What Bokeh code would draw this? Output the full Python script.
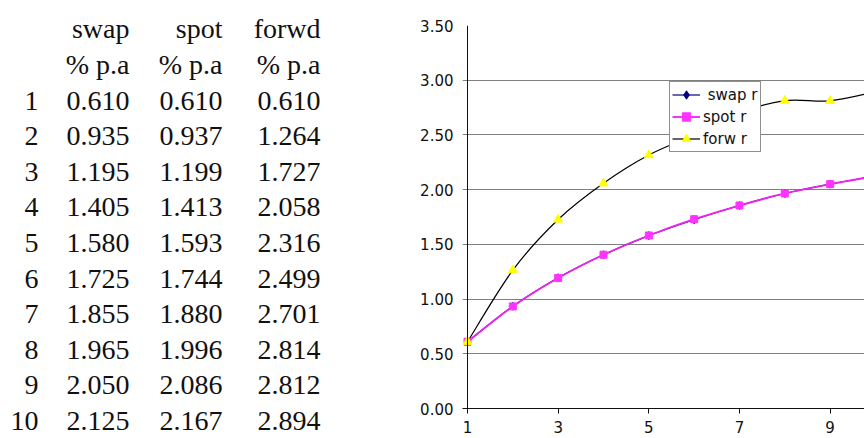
from bokeh.plotting import figure
from bokeh.layouts import row
from bokeh.models import Range1d, FixedTicker, NumeralTickFormatter, Span, Legend, LegendItem
from bokeh.core.properties import value
from bokeh.embed import file_html
from bokeh.resources import INLINE

# ---------------- data ----------------
years = [1, 2, 3, 4, 5, 6, 7, 8, 9, 10]
swap = [0.610, 0.935, 1.195, 1.405, 1.580, 1.725, 1.855, 1.965, 2.050, 2.125]
spot = [0.610, 0.937, 1.199, 1.413, 1.593, 1.744, 1.880, 1.996, 2.086, 2.167]
forw = [0.610, 1.264, 1.727, 2.058, 2.316, 2.499, 2.701, 2.814, 2.812, 2.894]
# values of the magenta "spot r" curve (it sits on the swap curve)
spot_plotted = [0.610, 0.933, 1.192, 1.405, 1.581, 1.730, 1.855, 1.965, 2.050, 2.125]
col_headers = ["swap", "spot", "forwd"]
unit_label = "% p.a"
y_ticks = [0.0, 0.5, 1.0, 1.5, 2.0, 2.5, 3.0, 3.5]
x_ticks = [1, 3, 5, 7, 9]
legend_labels = [" swap r", "spot r", "forw r"]

W, H = 864, 438

# ---------------- table (left) ----------------
TBL_W = 400
tbl = figure(width=TBL_W, height=H, x_range=Range1d(0, TBL_W), y_range=Range1d(H, 0),
             output_backend="svg", toolbar_location=None,
             x_axis_location=None, y_axis_location=None, min_border=0,
             outline_line_color=None, frame_align=False)
tbl.grid.visible = False

col_right = [38, 129, 222, 320]
header_y = [28, 64]
row_y0, row_dy = 100, 35.6

tx, ty, tt = [], [], []
for j, h in enumerate(col_headers):
    tx += [col_right[j + 1], col_right[j + 1]]
    ty += [header_y[0], header_y[1]]
    tt += [h, unit_label]
for i, yr in enumerate(years):
    yy = row_y0 + i * row_dy
    vals = [str(yr), f"{swap[i]:.3f}", f"{spot[i]:.3f}", f"{forw[i]:.3f}"]
    for j, v in enumerate(vals):
        tx.append(col_right[j]); ty.append(yy); tt.append(v)

tbl.text(x=tx, y=ty, text=tt, text_align="right", text_baseline="middle",
         text_font=value("Liberation Serif"), text_font_size="28px", text_color="#111111")

# ---------------- chart (right) ----------------
CH_W = W - TBL_W
px_per_x = 45.33
axis_px = 467 - TBL_W
left_border = 62
x_start = 1 - (axis_px - left_border) / px_per_x
x_end = 1 + (CH_W - axis_px) / px_per_x

p = figure(width=CH_W, height=H, x_range=Range1d(x_start, x_end), y_range=Range1d(0, 3.5),
           output_backend="svg", toolbar_location=None,
           min_border_left=left_border, min_border_right=0, min_border_top=25,
           min_border_bottom=30, outline_line_color=None, frame_align=False)

lbl_font = "DejaVu Sans"
p.yaxis.ticker = FixedTicker(ticks=y_ticks)
p.yaxis.formatter = NumeralTickFormatter(format="0.00")
p.yaxis.axis_line_color = None
p.yaxis.major_tick_line_color = None
p.yaxis.major_tick_out = 0
p.yaxis.major_tick_in = 0
p.yaxis.minor_tick_line_color = None
p.yaxis.major_label_standoff = 9

p.xaxis.ticker = FixedTicker(ticks=x_ticks)
p.xaxis.axis_line_color = "#111111"
p.xaxis.major_tick_line_color = "#111111"
p.xaxis.major_tick_out = 5
p.xaxis.major_tick_in = 0
p.xaxis.minor_tick_line_color = None
p.xaxis.major_label_standoff = 7

for ax in (p.xaxis, p.yaxis):
    ax.major_label_text_font = lbl_font
    ax.major_label_text_font_size = "15px"
    ax.major_label_text_color = "#111111"

p.xgrid.visible = False
p.ygrid.ticker = FixedTicker(ticks=y_ticks)
p.ygrid.grid_line_color = "#808080"
p.ygrid.grid_line_width = 1

p.add_layout(Span(location=1, dimension="height", line_color="#111111", line_width=1))


def smooth(xs, ys):
    n = len(xs)
    d = dict(x0=[], y0=[], x1=[], y1=[], cx0=[], cy0=[], cx1=[], cy1=[])
    for i in range(n - 1):
        im, ip = max(i - 1, 0), min(i + 2, n - 1)
        d["x0"].append(xs[i]); d["y0"].append(ys[i])
        d["x1"].append(xs[i + 1]); d["y1"].append(ys[i + 1])
        d["cx0"].append(xs[i] + (xs[i + 1] - xs[im]) / 6)
        d["cy0"].append(ys[i] + (ys[i + 1] - ys[im]) / 6)
        d["cx1"].append(xs[i + 1] - (xs[ip] - xs[i]) / 6)
        d["cy1"].append(ys[i + 1] - (ys[ip] - ys[i]) / 6)
    return d


b_swap = p.bezier(**smooth(years, swap), line_color="#000080", line_width=1.2)
b_spot = p.bezier(**smooth(years, spot_plotted), line_color="#F020F0", line_width=1.8)
b_forw = p.bezier(**smooth(years, forw), line_color="#000000", line_width=1.2)

s_swap = p.scatter(years, swap, marker="diamond", size=8, fill_color="#000080", line_color="#000080")
s_spot = p.scatter(years, spot_plotted, marker="square", size=7, fill_color="#FF33FF", line_color="#FF33FF")
s_forw = p.scatter(years, forw, marker="triangle", size=9, fill_color="#FFFF00", line_color="#FFFF00")

legend = Legend(items=[
    LegendItem(label=legend_labels[0], renderers=[b_swap, s_swap]),
    LegendItem(label=legend_labels[1], renderers=[b_spot, s_spot]),
    LegendItem(label=legend_labels[2], renderers=[b_forw, s_forw]),
], location=(669 - 462, 408 - 152))
legend.glyph_width = 28
legend.glyph_height = 21
legend.label_height = 21
legend.spacing = 1
legend.padding = 2
legend.margin = 0
legend.label_standoff = 3
legend.label_text_font = lbl_font
legend.label_text_font_size = "15px"
legend.label_text_color = "#111111"
legend.border_line_color = "#222222"
legend.border_line_width = 1
legend.background_fill_color = "white"
legend.background_fill_alpha = 1
p.add_layout(legend)

layout = row(tbl, p)
open("out.html", "w").write(file_html(layout, INLINE))
